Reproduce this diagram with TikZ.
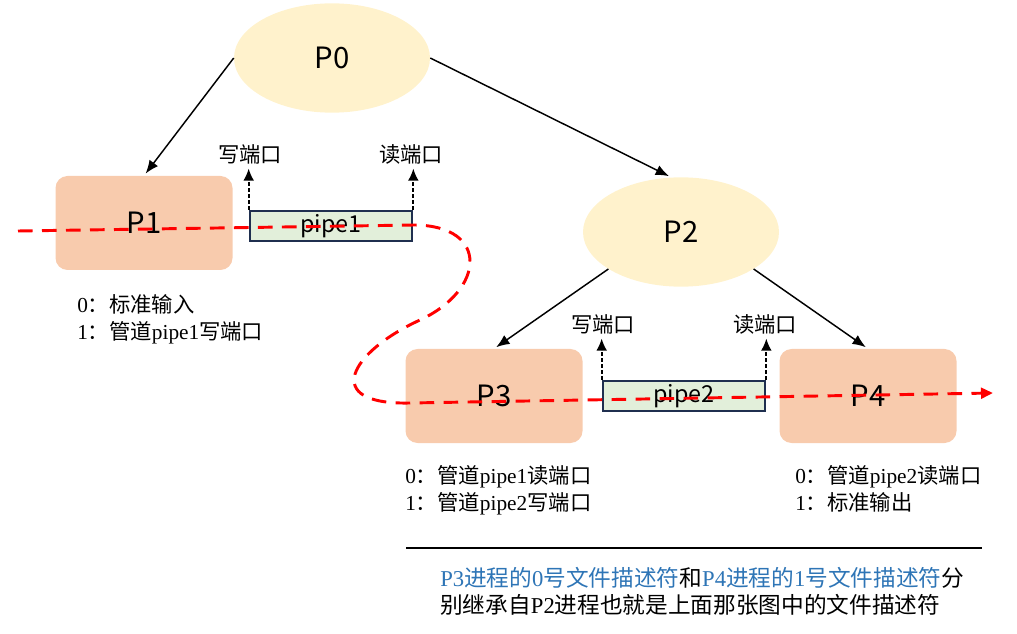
\documentclass[tikz,border=0pt]{standalone}
\usepackage{fontspec}
\setmainfont{Liberation Serif}
\newfontfamily\cjk{Noto Sans CJK SC}
\usetikzlibrary{shapes.geometric,arrows.meta}
\definecolor{procfill}{HTML}{FFF2CC}
\definecolor{childfill}{HTML}{F8CBAD}
\definecolor{pipefill}{HTML}{E2EFDA}
\definecolor{pipeline}{HTML}{1F2F4F}
\definecolor{notetext}{HTML}{2E75B6}
\newcommand\zh[1]{{\cjk #1}}

\begin{document}
\begin{tikzpicture}[x=0.75pt,y=-0.75pt,
  proc/.style={ellipse, fill=procfill, minimum width=147pt, minimum height=82pt,
    inner sep=0pt, font=\cjk\fontsize{22}{26}\selectfont},
  child/.style={rounded corners=9pt, fill=childfill, minimum width=132.75pt,
    minimum height=70.5pt, font=\cjk\fontsize{22}{26}\selectfont},
  pipebox/.style={draw=pipeline, line width=1.5pt, fill=pipefill, minimum width=122pt,
    minimum height=23pt, inner sep=0pt, font=\cjk\fontsize{17.5}{20}\selectfont},
  port/.style={font=\cjk\fontsize{16}{19}\selectfont},
  fdtext/.style={align=left, anchor=north west, inner sep=0pt, font=\fontsize{16}{20.25}\selectfont},
  note/.style={align=left, anchor=north west, inner sep=0pt, font=\fontsize{17}{20.25}\selectfont},
  fork/.style={-{Latex[length=10pt,width=8pt]}, line width=1.1pt, shorten >=2pt},
  portarrow/.style={-{Latex[length=9pt,width=8pt]}, line width=1.3pt, dash pattern=on 3pt off 1.5pt},
  flow/.style={red, line width=2.2pt, dash pattern=on 11pt off 7pt, -{Triangle[length=9pt,width=8pt]}}]
\useasboundingbox (0,0) rectangle (1017,634);

% parent and first child
\node[proc] (p0) at (332,58) {P0};
\node[child] (p1) at (144,223) {P1};
\node[pipebox] (pipe1) at (331,226) {pipe1};
\node[port] (w1) at (250,154) {写端口};
\node[port] (r1) at (411,154) {读端口};

% second child and its children
\node[proc] (p2) at (681,232) {P2};
\node[child] (p3) at (494,396) {P3};
\node[pipebox] (pipe2) at (684,396) {pipe2};
\node[port] (w2) at (603,324) {写端口};
\node[port] (r2) at (765,324) {读端口};
\node[child] (p4) at (868,396) {P4};

% fork arrows
\draw[fork] (p0.west) -- (p1.north);
\draw[fork] (p0.east) -- (p2.100);
\draw[fork] (p2.207) -- (p3.north);
\draw[fork] (p2.333) -- (p4.north);

% pipe ends
\draw[portarrow] (pipe1.north west) -- (pipe1.north west |- w1.south);
\draw[portarrow] (pipe1.north east) -- (pipe1.north east |- r1.south);
\draw[portarrow] (pipe2.north west) -- (pipe2.north west |- w2.south);
\draw[portarrow] (pipe2.north east) -- (pipe2.north east |- r2.south);

% file descriptor tables
\node[fdtext] (fd1) at (77,294) {0\zh{：}\zh{标准输入}\\
  1\zh{：}\zh{管道}pipe1\zh{写端口}};
\node[fdtext] (fd3) at (405,465) {0\zh{：}\zh{管道}pipe1\zh{读端口}\\
  1\zh{：}\zh{管道}pipe2\zh{写端口}};
\node[fdtext] (fd4) at (795,465) {0\zh{：}\zh{管道}pipe2\zh{读端口}\\
  1\zh{：}\zh{标准输出}};

% data flow through the pipeline
\coordinate (in) at (18,231);
\coordinate (out) at (993,393);
\draw[flow] (in) -- (415,225) .. controls (490,226) and (485,290) .. (420,320)
  .. controls (350,352) and (320,405) .. (410,403) -- (out);

% note
\draw[line width=1.2pt] (406,548) -- (982,548);
\node[note] (remark) at (440,567) {\textcolor{notetext}{P3\zh{进程的}0\zh{号文件描述符}}\zh{和}%
  \textcolor{notetext}{P4\zh{进程的}1\zh{号文件描述符}}\zh{分}\\
  \zh{别继承自}P2\zh{进程也就是上面那张图中的文件描述符}};
\end{tikzpicture}
\end{document}
